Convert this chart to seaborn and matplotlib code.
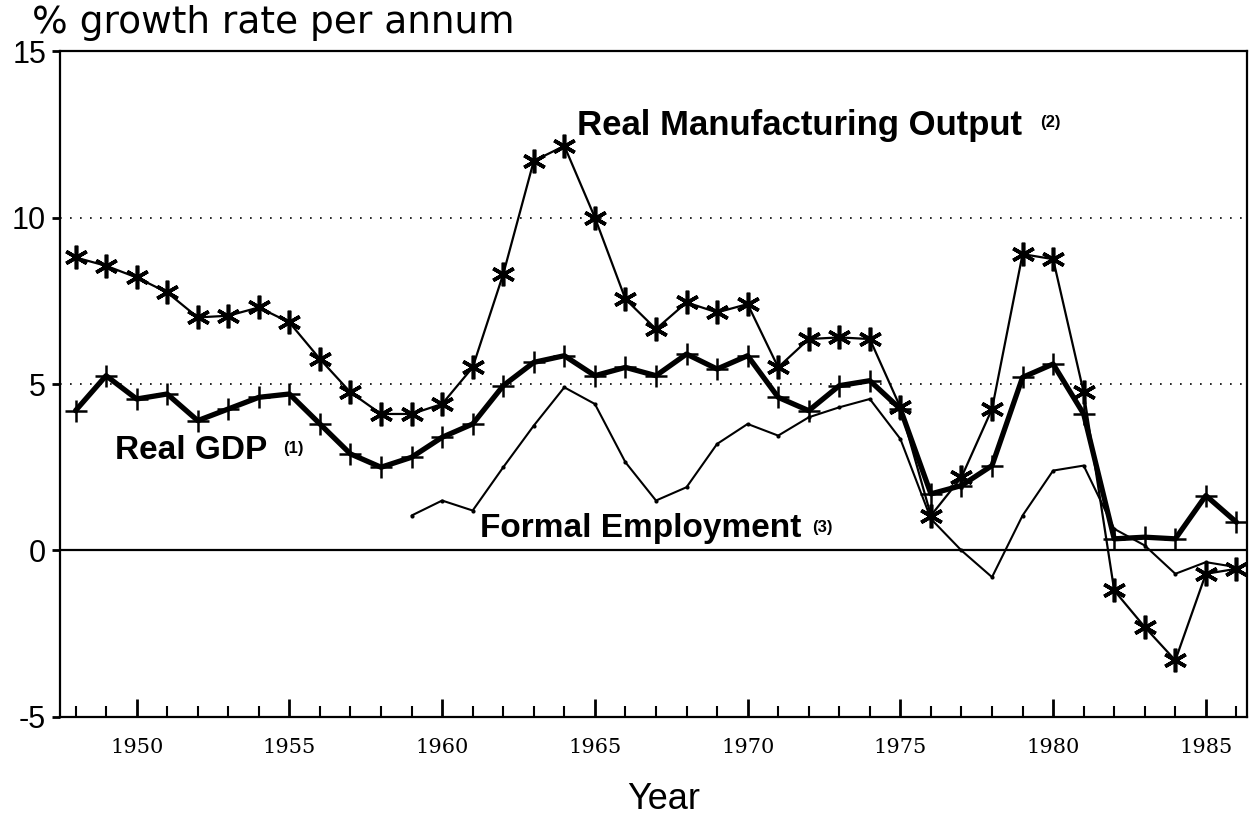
import numpy as np
import pandas as pd
import matplotlib
matplotlib.use("Agg")
import matplotlib.pyplot as plt
import seaborn as sns

# Growth rates, % per annum
years = list(range(1948, 1987))

mfg_output = [8.8, 8.55, 8.2, 7.75, 7.0, 7.05, 7.3, 6.85, 5.75, 4.75,
              4.1, 4.1, 4.4, 5.5, 8.3, 11.7, 12.15, 10.0, 7.55, 6.65,
              7.45, 7.15, 7.4, 5.5, 6.35, 6.4, 6.35, 4.3, 1.05, 2.2,
              4.25, 8.9, 8.75, 4.75, -1.2, -2.3, -3.3, -0.7, -0.55]

real_gdp = [4.2, 5.25, 4.55, 4.7, 3.9, 4.25, 4.6, 4.7, 3.8, 2.9,
            2.5, 2.8, 3.4, 3.8, 4.95, 5.65, 5.85, 5.25, 5.5, 5.25,
            5.9, 5.45, 5.85, 4.6, 4.2, 4.95, 5.1, 4.25, 1.7, 1.95,
            2.55, 5.2, 5.6, 4.1, 0.35, 0.4, 0.35, 1.65, 0.85]

emp_years = list(range(1959, 1987))
formal_emp = [1.05, 1.5, 1.2, 2.5, 3.75, 4.9, 4.4, 2.65, 1.5, 1.9,
              3.2, 3.8, 3.45, 4.0, 4.3, 4.55, 3.35, 0.95, 0.0, -0.8,
              1.05, 2.4, 2.55, 0.65, 0.15, -0.7, -0.35, -0.5]

df = pd.DataFrame({"Year": years, "Mfg": mfg_output, "GDP": real_gdp})
df_emp = pd.DataFrame({"Year": emp_years, "Emp": formal_emp})

sns.set_style("ticks")
plt.rcParams["font.family"] = ["Liberation Sans", "DejaVu Sans"]
plt.rcParams["axes.unicode_minus"] = False
plt.rcParams["text.color"] = "black"
plt.rcParams["axes.labelcolor"] = "black"
plt.rcParams["xtick.color"] = "black"
plt.rcParams["ytick.color"] = "black"
plt.rcParams["axes.edgecolor"] = "black"

fig = plt.figure(figsize=(12.49, 8.31), dpi=100)
ax = fig.add_axes([0.048, 0.1372, 0.950, 0.8014])

# reference lines
ax.axhline(10, color="black", lw=1.2, ls=(0, (1, 5)), zorder=1)
ax.axhline(5, color="black", lw=1.2, ls=(0, (1, 5)), zorder=1)
ax.axhline(0, color="black", lw=1.6, zorder=1)

sns.lineplot(data=df, x="Year", y="Mfg", ax=ax, color="black", lw=1.6,
             marker=(6, 2, 0), markersize=17, markeredgewidth=2.6,
             markeredgecolor="black", zorder=3)
sns.lineplot(data=df, x="Year", y="GDP", ax=ax, color="black", lw=3.8,
             marker="+", markersize=16, markeredgewidth=1.8,
             markeredgecolor="black", zorder=4)
sns.lineplot(data=df_emp, x="Year", y="Emp", ax=ax, color="black", lw=1.5,
             marker="o", markersize=3, markeredgewidth=0,
             markerfacecolor="black", zorder=2)

ax.set_xlim(1947.49, 1986.33)
ax.set_ylim(-5, 15)

ax.set_xticks(range(1950, 1986, 5))
ax.set_xticks(years, minor=True)
ax.set_yticks([-5, 0, 5, 10, 15])
ax.set_xticklabels([str(y) for y in range(1950, 1986, 5)],
                   family="DejaVu Serif", fontsize=15)
ax.set_yticklabels(["-5", "0", "5", "10", "15"], fontsize=22)

ax.tick_params(axis="x", which="major", direction="in", length=13, width=2, pad=15)
ax.tick_params(axis="x", which="minor", direction="in", length=8, width=1.5)
ax.tick_params(axis="y", which="major", direction="out", length=6, width=2, pad=4)
ax.tick_params(axis="y", which="minor", left=False)

for s in ax.spines.values():
    s.set_linewidth(1.6)
    s.set_visible(True)
    s.set_color("black")

ax.set_ylabel("")
ax.set_xlabel("Year", fontsize=26, fontweight="light")
ax.xaxis.set_label_coords(0.509, -0.098)

fig.text(0.026, 0.960, "% growth rate per annum", family="DejaVu Sans",
         fontsize=27, va="baseline", ha="left")

# series labels
ax.text(1964.41, 12.75, "Real Manufacturing Output", fontsize=25,
        fontweight="bold", va="center", ha="left")
ax.text(1979.57, 12.85, "(2)", fontsize=12, fontweight="bold", va="center", ha="left")
ax.text(1949.28, 3.0, "Real GDP", fontsize=24, fontweight="bold",
        va="center", ha="left")
ax.text(1954.78, 3.05, "(1)", fontsize=12, fontweight="bold", va="center", ha="left")
ax.text(1961.23, 0.65, "Formal Employment", fontsize=24, fontweight="bold",
        va="center", ha="left")
ax.text(1972.1, 0.7, "(3)", fontsize=12, fontweight="bold", va="center", ha="left")

fig.savefig("out.png", dpi=100)
